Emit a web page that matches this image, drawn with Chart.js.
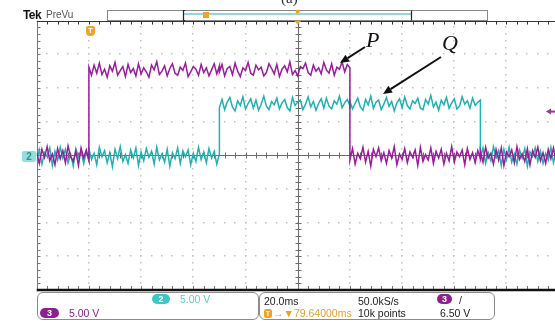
<!DOCTYPE html>
<html>
<head>
<meta charset="utf-8">
<script src="https://cdn.jsdelivr.net/npm/chart.js@4.4.1/dist/chart.umd.min.js"></script>
<style>
	html, body { margin: 0; padding: 0; background: #fff; }
	body { width: 555px; height: 322px; overflow: hidden; position: relative; font-family: "Liberation Sans", Arial, sans-serif; }
	#wrap { position: absolute; left: 0; top: 0; width: 560px; height: 322px; }
	.lbl { position: absolute; white-space: nowrap; line-height: 1; }
	.panel { position: absolute; border: 1px solid #8c8c8c; border-radius: 6px; box-sizing: border-box; background: #fff; }
	.badge { position: absolute; border-radius: 5px; color: #fff; font-size: 9px; text-align: center; font-weight: bold; }
	.serif { font-family: "Liberation Serif", "DejaVu Serif", serif; font-style: italic; color: #111; }
</style>
</head>
<body>
<div id="wrap"><canvas id="scope" width="560" height="322"></canvas></div>

<div class="lbl" style="left:281px;top:-9px;font-family:'Liberation Serif',serif;font-size:15px;color:#333;">(a)</div>
<div class="lbl" style="left:23px;top:9px;font-size:12px;font-weight:bold;color:#111;letter-spacing:-0.6px;">Tek</div>
<div class="lbl" style="left:46px;top:10px;font-size:10px;color:#555;">PreVu</div>

<div class="lbl serif" style="left:366px;top:29px;font-size:22px;">P</div>
<div class="lbl serif" style="left:442px;top:32px;font-size:22px;">Q</div>

<div class="badge" style="left:86px;top:26px;width:9px;height:10px;line-height:10px;background:#f0a326;border-radius:2px 2px 4px 4px;font-size:8px;">T</div>
<div class="lbl" style="left:22px;top:151px;width:14px;height:11px;line-height:11px;background:#93dede;color:#3b8e8e;font-size:10px;font-weight:bold;text-align:center;border-radius:2px;">2</div>

<div class="panel" style="left:37px;top:292px;width:222px;height:28px;"></div>
<div class="badge" style="left:40px;top:308px;width:19px;height:10px;line-height:10px;background:#8e1f8e;">3</div>
<div class="lbl" style="left:69px;top:308px;font-size:10.5px;color:#8e1f8e;">5.00 V</div>
<div class="badge" style="left:152px;top:294px;width:18px;height:10px;line-height:10px;background:#3cc6c6;">2</div>
<div class="lbl" style="left:180px;top:294px;font-size:10.5px;color:#5ccfcf;">5.00 V</div>

<div class="panel" style="left:259px;top:292px;width:236px;height:28px;"></div>
<div class="lbl" style="left:264px;top:296px;font-size:10.5px;color:#222;">20.0ms</div>
<div class="badge" style="left:264px;top:309px;width:8px;height:9px;line-height:9px;background:#f0a326;border-radius:2px;font-size:7px;">T</div>
<div class="lbl" style="left:273px;top:308px;font-size:10.5px;color:#e6a030;">&#8594;&#9660;79.64000ms</div>
<div class="lbl" style="left:358px;top:296px;font-size:10.5px;color:#222;">50.0kS/s</div>
<div class="lbl" style="left:358px;top:308px;font-size:10.5px;color:#222;">10k points</div>
<div class="badge" style="left:437px;top:294px;width:15px;height:10px;line-height:10px;background:#8e1f8e;">3</div>
<div class="lbl" style="left:459px;top:295px;font-size:10.5px;color:#222;">/</div>
<div class="lbl" style="left:440px;top:308px;font-size:10.5px;color:#222;">6.50 V</div>

<script>
(function () {
	'use strict';

	// :: 1.0 Data (time in ms, volts per channel)
	var timeMs = [
		-100, -99, -98, -97, -96, -95, -94, -93, -92, -91, -90, -89, -88, -87, -86, -85, -84, -83, -82, -81, -80,
		-80, -79, -78, -77, -76, -75, -74, -73, -72, -71, -70, -69, -68, -67, -66, -65, -64, -63, -62, -61, -60,
		-59, -58, -57, -56, -55, -54, -53, -52, -51, -50, -49, -48, -47, -46, -45, -44, -43, -42, -41, -40,
		-39, -38, -37, -36, -35, -34, -33, -32, -31, -30,
		-30, -29, -28, -27, -26, -25, -24, -23, -22, -21, -20, -19, -18, -17, -16, -15, -14, -13, -12, -11, -10,
		-9, -8, -7, -6, -5, -4, -3, -2, -1, 0, 1, 2, 3, 4, 5, 6, 7, 8, 9, 10,
		11, 12, 13, 14, 15, 16, 17, 18, 19, 20,
		20, 21, 22, 23, 24, 25, 26, 27, 28, 29, 30, 31, 32, 33, 34, 35, 36, 37, 38, 39, 40,
		41, 42, 43, 44, 45, 46, 47, 48, 49, 50, 51, 52, 53, 54, 55, 56, 57, 58, 59, 60,
		61, 62, 63, 64, 65, 66, 67, 68, 69, 70,
		70, 71, 72, 73, 74, 75, 76, 77, 78, 79, 80, 81, 82, 83, 84, 85, 86, 87, 88, 89, 90,
		91, 92, 93, 94, 95, 96, 97, 98, 99, 100
	];

	// channel 3 (P, purple)
	var ch3Volts = [
		0.4, -1.2, 0.9, -0.3, 1.3, -0.8, 0.2, -1.4, 1.0, -0.5, 0.7, -1.1, 1.4, -0.2, -0.9, 0.6, -1.5, 1.1, -0.4, 0.8, -0.7,

		13.1, 11.9, 13.4, 12.2, 13.7, 12.0, 12.8, 11.6, 13.3, 12.5, 13.8, 11.9, 12.6, 13.2, 11.7, 13.5, 12.3, 12.9, 11.8, 13.6,
		12.1, 13.0, 12.4, 11.6, 13.4, 12.7, 13.9, 12.0, 12.5, 13.3, 11.8, 12.9, 13.6, 12.2, 11.9, 13.1, 12.6, 13.7, 11.7, 12.4,
		13.2, 12.8, 11.9, 13.5, 12.3, 13.0, 11.8, 12.7, 13.6, 12.1, 13.3,

		12.4, 13.5, 11.8, 12.9, 13.2, 12.0, 13.7, 12.5, 11.7, 13.0, 12.6, 13.8, 12.2, 11.9, 13.4, 12.7, 13.1, 11.8, 12.3, 13.6,
		12.9, 12.1, 13.5, 11.7, 12.8, 13.3, 12.4, 13.9, 12.0, 12.6, 11.8, 13.2, 12.9, 13.7, 12.3, 11.9, 13.4, 12.5, 13.0, 12.1,
		13.8, 12.7, 12.2, 13.6, 11.9, 13.1, 12.8, 13.9, 12.4, 13.5, 13.0,

		-0.7, 1.0, -1.3, 0.3, -0.5, 1.2, -1.0, 0.6, -1.6, 0.9, -0.2, 1.1, -0.8, 0.4, -1.2, 0.7, -0.4, 1.3, -1.4, 0.2,
		-0.6, 1.0, -1.1, 0.5, -0.3, 0.8, -1.5, 1.2, -0.9, 0.1, -0.7, 1.1, -1.2, 0.6, -0.4, 0.9, -1.3, 0.3, -0.8, 1.3,
		-1.0, 0.5, -0.2, 0.8, -1.4, 1.0, -0.6, 0.4, -1.1, 0.7, -0.5,

		0.6, -1.0, 1.2, -0.4, 0.3, -1.3, 0.9, -0.7, 1.1, -1.5, 0.5, -0.2, 0.8, -1.1, 1.3, -0.6, 0.2, -0.9, 1.0, -1.4,
		0.7, -0.3, 1.2, -0.8, 0.4, -1.2, 0.9, -0.5, 1.1, -1.0, 0.3
	];

	// channel 2 (Q, cyan)
	var ch2Volts = [
		-0.9, 0.8, -1.3, 0.4, -0.2, 1.1, -1.5, 0.6, -0.7, 1.2, -0.4, 0.9, -1.1, 0.2, -1.6, 1.0, -0.3, 0.7, -1.2, 0.5, -0.8,

		1.0, -0.6, 0.3, -1.4, 1.2, -0.2, 0.7, -1.1, 0.4, -1.7, 0.9, -0.5, 1.3, -0.9, 0.1, -1.2, 0.8, -0.4, 1.1, -1.5,
		0.5, -0.8, 1.0, -0.3, 0.6, -1.3, 1.2, -0.7, 0.2, -1.0, 0.9, -1.6, 0.4, -0.5, 1.1, -1.2, 0.7, -0.2, 0.8, -1.4,
		0.3, -0.9, 1.2, -0.6, 0.5, -1.1, 1.0, -0.4, 0.6, -1.3, 0.2,

		7.1, 8.3, 6.8, 7.9, 8.6, 7.2, 6.6, 8.1, 7.4, 8.7, 6.9, 7.7, 8.4, 7.0, 8.2, 6.7, 7.6, 8.8, 7.3, 6.8,
		8.0, 7.5, 8.5, 6.9, 7.8, 8.3, 7.1, 6.6, 8.6, 7.4, 7.9, 8.2, 6.8, 7.6, 8.7, 7.2, 8.0, 6.7, 7.7, 8.4,
		7.0, 8.5, 7.3, 6.9, 8.1, 7.6, 8.8, 7.1, 7.8, 8.3, 7.4,

		8.0, 6.9, 7.7, 8.5, 7.2, 6.7, 8.3, 7.5, 8.8, 7.0, 7.9, 8.2, 6.8, 7.6, 8.6, 7.3, 8.0, 6.6, 7.8, 8.4,
		7.1, 8.7, 7.4, 6.9, 8.1, 7.7, 8.5, 7.0, 6.8, 8.3, 7.6, 8.9, 7.2, 7.9, 6.7, 8.2, 7.5, 8.6, 7.0, 7.8,
		8.4, 6.9, 7.3, 8.7, 7.6, 8.1, 7.0, 8.5, 7.4, 7.9, 8.2,

		-0.5, 1.1, -1.2, 0.4, -0.8, 1.3, -0.3, 0.7, -1.5, 0.9, -0.6, 1.2, -1.0, 0.2, -1.3, 0.8, -0.4, 1.0, -1.6, 0.5,
		-0.2, 1.1, -0.9, 0.6, -1.2, 0.3, -0.7, 1.2, -1.1, 0.4, -0.5
	];

	var ch3TrigLevel = 6.5;
	var DIV_X = 10, DIV_Y = 8, MINOR = 5;

	function toPoints(vals) {
		return vals.map(function (v, i) { return { x: timeMs[i], y: v }; });
	}

	// :: 2.0 Graticule
	function dot(ctx, x, y) {
		ctx.fillRect(Math.round(x) - 1, Math.round(y) - 1, 1.5, 1.5);
	}

	var scopeGrid = {
		id: 'scopeGrid',
		beforeDatasetsDraw: function (chart) {
			var ctx = chart.ctx, a = chart.chartArea;
			var sx = (a.right - a.left) / (DIV_X * MINOR);
			var sy = (a.bottom - a.top) / (DIV_Y * MINOR);
			var cx = Math.round(chart.scales.x.getPixelForValue(0)) + 0.5;
			var cy = Math.round(chart.scales.y.getPixelForValue(0)) + 0.5;
			var i, j;
			ctx.save();
			ctx.fillStyle = '#c2c2c2';
			for (i = 1; i < DIV_X; i++) {
				if (i === DIV_X / 2) continue;
				for (j = 1; j < DIV_Y * MINOR; j++) dot(ctx, a.left + i * MINOR * sx, a.top + j * sy);
			}
			for (i = 1; i < DIV_Y; i++) {
				if (i === DIV_Y / 2) continue;
				for (j = 1; j < DIV_X * MINOR; j++) dot(ctx, a.left + j * sx, a.top + i * MINOR * sy);
			}

			// center cross with ticks
			ctx.strokeStyle = '#6b6b6b';
			ctx.lineWidth = 1;
			ctx.beginPath();
			ctx.moveTo(a.left, cy); ctx.lineTo(a.right, cy);
			ctx.moveTo(cx, a.top); ctx.lineTo(cx, a.bottom);
			for (j = 1; j < DIV_X * MINOR; j++) {
				var tx = Math.round(a.left + j * sx) + 0.5;
				ctx.moveTo(tx, cy - 3); ctx.lineTo(tx, cy + 3);
			}
			for (j = 1; j < DIV_Y * MINOR; j++) {
				var ty = Math.round(a.top + j * sy) + 0.5;
				ctx.moveTo(cx - 3, ty); ctx.lineTo(cx + 3, ty);
			}
			ctx.stroke();

			// border left with ticks
			var lx = Math.round(a.left) + 0.5;
			ctx.strokeStyle = '#777';
			ctx.beginPath();
			ctx.moveTo(lx, a.top); ctx.lineTo(lx, a.bottom);
			for (j = 1; j < DIV_Y * MINOR; j++) {
				var ly = Math.round(a.top + j * sy) + 0.5;
				ctx.moveTo(lx, ly); ctx.lineTo(lx + 3, ly);
			}
			ctx.stroke();

			// top border with ticks
			var tyb = Math.round(a.top) + 0.5;
			ctx.strokeStyle = '#333';
			ctx.beginPath();
			ctx.moveTo(a.left, tyb); ctx.lineTo(a.right, tyb);
			for (j = 1; j < DIV_X * MINOR; j++) {
				var ttx = Math.round(a.left + j * sx) + 0.5;
				ctx.moveTo(ttx, tyb); ctx.lineTo(ttx, tyb + 3);
			}
			ctx.stroke();

			// bottom border, thick
			ctx.strokeStyle = '#777';
			ctx.beginPath();
			for (j = 1; j < DIV_X * MINOR; j++) {
				var bx = Math.round(a.left + j * sx) + 0.5;
				ctx.moveTo(bx, a.bottom - 4); ctx.lineTo(bx, a.bottom);
			}
			ctx.stroke();
			ctx.strokeStyle = '#111';
			ctx.lineWidth = 2.5;
			ctx.beginPath();
			ctx.moveTo(a.left, a.bottom); ctx.lineTo(a.right, a.bottom);
			ctx.stroke();
			ctx.restore();
		}
	};

	// :: 3.0 Overlay (record bar, markers, arrows)
	function arrow(ctx, x1, y1, x2, y2) {
		var ang = Math.atan2(y2 - y1, x2 - x1), len = 9, w = 4;
		var bx = x2 - len * Math.cos(ang), by = y2 - len * Math.sin(ang);
		ctx.beginPath();
		ctx.moveTo(x1, y1); ctx.lineTo(bx, by);
		ctx.stroke();
		ctx.beginPath();
		ctx.moveTo(x2, y2);
		ctx.lineTo(bx + w * Math.sin(ang), by - w * Math.cos(ang));
		ctx.lineTo(bx - w * Math.sin(ang), by + w * Math.cos(ang));
		ctx.closePath();
		ctx.fill();
	}

	var scopeOverlay = {
		id: 'scopeOverlay',
		afterDraw: function (chart) {
			var ctx = chart.ctx, a = chart.chartArea;
			var cx = chart.scales.x.getPixelForValue(0);
			ctx.save();

			// record view bar
			ctx.fillStyle = '#fff';
			ctx.strokeStyle = '#8a8a8a';
			ctx.lineWidth = 1;
			ctx.fillRect(107, 10, 380, 10);
			ctx.strokeRect(107.5, 10.5, 380, 10);
			ctx.strokeStyle = '#8fd9d9';
			ctx.lineWidth = 2;
			ctx.beginPath(); ctx.moveTo(184, 14); ctx.lineTo(411, 14); ctx.stroke();
			ctx.strokeStyle = '#222';
			ctx.lineWidth = 1.2;
			ctx.beginPath();
			ctx.moveTo(185, 10.5); ctx.lineTo(183.5, 10.5); ctx.lineTo(183.5, 20.5); ctx.lineTo(185, 20.5);
			ctx.moveTo(411.5, 10.5); ctx.lineTo(411.5, 20.5);
			ctx.stroke();
			ctx.fillStyle = '#f0a326';
			ctx.fillRect(203, 12, 6, 6);
			ctx.beginPath(); ctx.arc(cx, 11.5, 2, 0, Math.PI * 2); ctx.fill();
			ctx.beginPath();
			ctx.moveTo(cx - 3.5, a.top); ctx.lineTo(cx + 3.5, a.top); ctx.lineTo(cx, a.top + 4);
			ctx.closePath(); ctx.fill();

			// ch3 trigger level marker (right edge)
			var ty = chart.scales.y.getPixelForValue(ch3TrigLevel);
			ctx.fillStyle = '#a0329f';
			ctx.beginPath();
			ctx.moveTo(546, ty); ctx.lineTo(551, ty - 3); ctx.lineTo(551, ty + 3);
			ctx.closePath(); ctx.fill();
			ctx.fillRect(550, ty - 1, 5, 2);

			// annotation arrows
			ctx.strokeStyle = '#111';
			ctx.fillStyle = '#111';
			ctx.lineWidth = 2;
			arrow(ctx, 365, 47, 340, 63);
			arrow(ctx, 441, 57, 383, 94);
			ctx.restore();
		}
	};

	// :: 4.0 Chart
	var ctx = document.getElementById('scope').getContext('2d');
	new Chart(ctx, {
		type: 'line',
		data: {
			datasets: [{
				label: 'CH3',
				data: toPoints(ch3Volts),
				borderColor: '#9a1b9e',
				borderWidth: 1.5,
				pointRadius: 0,
				tension: 0,
				order: 1
			}, {
				label: 'CH2',
				data: toPoints(ch2Volts),
				borderColor: '#22b0b0',
				borderWidth: 1.5,
				pointRadius: 0,
				tension: 0,
				order: 2
			}]
		},
		options: {
			responsive: false,
			animation: false,
			devicePixelRatio: 1,
			layout: { padding: { left: 36.7, top: 20.7, right: 1.3, bottom: 32 } },
			scales: {
				x: { type: 'linear', min: -100, max: 100, display: false },
				y: { type: 'linear', min: -20, max: 20, display: false }
			},
			plugins: {
				legend: { display: false },
				tooltip: { enabled: false }
			}
		},
		plugins: [scopeGrid, scopeOverlay]
	});
}());
</script>
</body>
</html>
